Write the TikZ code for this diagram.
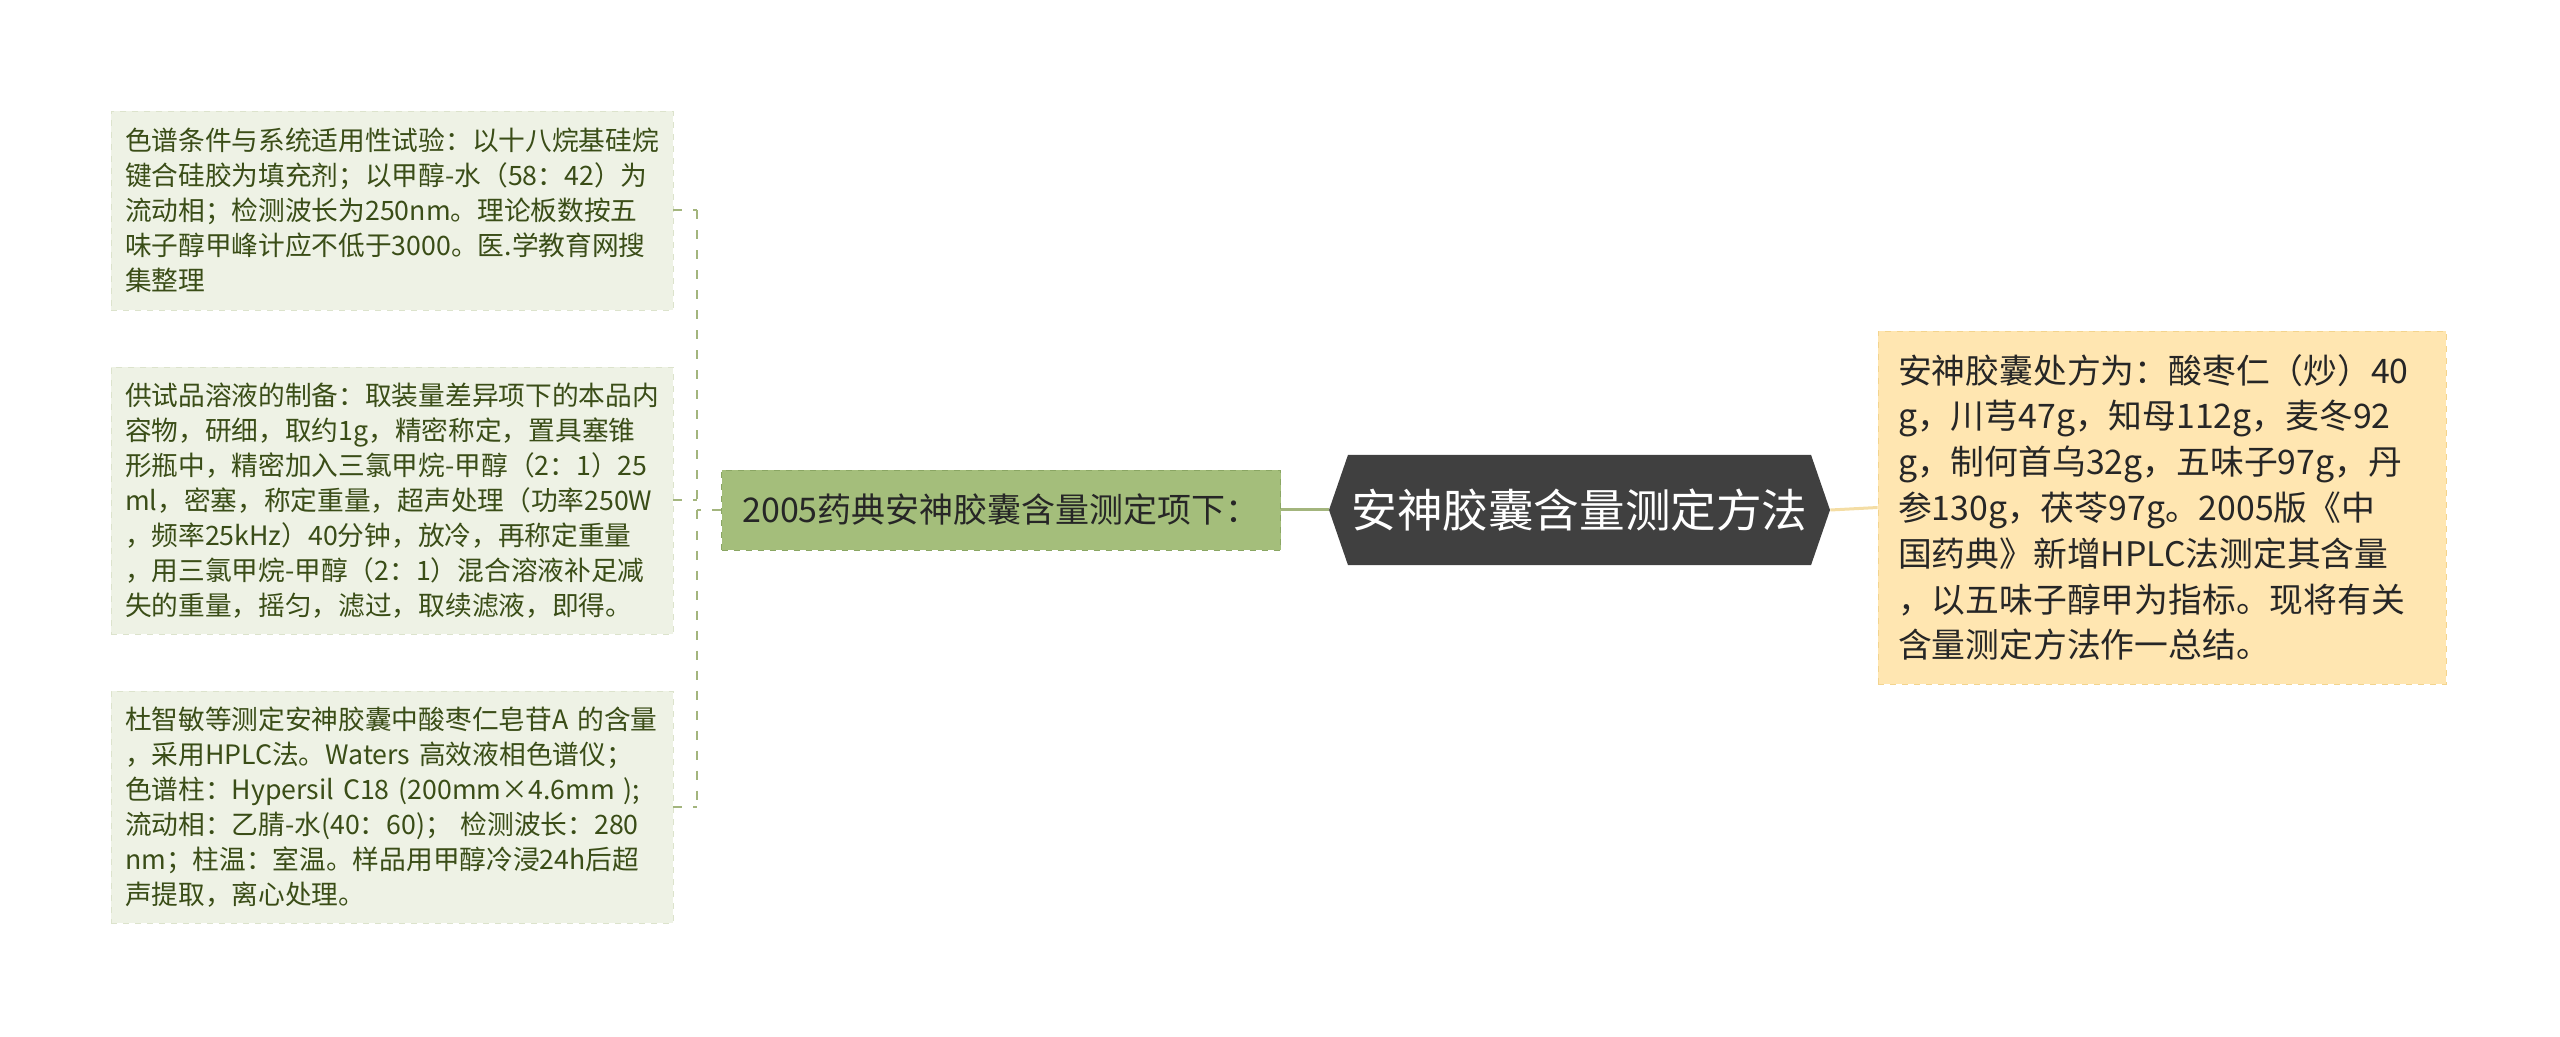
\documentclass[tikz,border=0pt]{standalone}
\usepackage{fontspec}
\setmainfont{Noto Sans CJK SC}
\usetikzlibrary{shapes.symbols}
\definecolor{leaffill}{HTML}{EEF2E5}
\definecolor{leafline}{HTML}{DCE3CC}
\definecolor{leaftext}{HTML}{3A4D17}
\definecolor{branchfill}{HTML}{A4BE7B}
\definecolor{branchline}{HTML}{8AA663}
\definecolor{rootfill}{HTML}{404040}
\definecolor{notefill}{HTML}{FFE6B1}
\definecolor{noteline}{HTML}{F3D48E}
\definecolor{linkgreen}{HTML}{A3B57D}
\definecolor{linkyellow}{HTML}{F4DDA4}
\tikzset{
  leaf/.style={rectangle,fill=leaffill,draw=leafline,dashed,text=leaftext,align=left,
    text width=267pt,inner xsep=7pt,inner ysep=0pt,
    font=\fontsize{13.35pt}{17.5pt}\selectfont},
  branch/.style={rectangle,fill=branchfill,draw=branchline,dashed,text=black!85,
    minimum width=279.5pt,minimum height=40pt,inner sep=0pt,
    font=\fontsize{17pt}{20pt}\selectfont},
  root/.style={signal,signal to=west and east,signal pointer angle=142,fill=rootfill,
    text=white,minimum width=250.5pt,minimum height=55pt,inner sep=0pt,
    font=\fontsize{22.8pt}{26pt}\selectfont},
  note/.style={rectangle,fill=notefill,draw=noteline,dashed,text=black!85,align=left,
    text width=264pt,inner xsep=10pt,inner ysep=0pt,minimum height=176.5pt,
    font=\fontsize{16.9pt}{22.9pt}\selectfont},
  twig/.style={draw=linkgreen,line width=1pt,dash pattern=on 4.5pt off 5.5pt},
  stem/.style={draw=linkgreen,line width=1.5pt},
  stemy/.style={draw=linkyellow,line width=1.5pt}
}
\begin{document}
\begin{tikzpicture}[x=0.5pt,y=-0.5pt]
    \useasboundingbox (0,0) rectangle (2560,1037);
    \node[root] (root) at (1579.5,510) {安神胶囊含量测定方法};
    \node[branch] (branch) at (1001,510) {2005药典安神胶囊含量测定项下：};
    \node[note] (note) at (2162,507.5) {安神胶囊处方为：酸枣仁（炒）40\\
      g，川芎47g，知母112g，麦冬92\\
      g，制何首乌32g，五味子97g，丹\\
      参130g，茯苓97g。2005版《中\\
      国药典》新增HPLC法测定其含量\\
      ，以五味子醇甲为指标。现将有关\\
      含量测定方法作一总结。};
    \node[leaf,minimum height=99.5pt] (b1) at (392,210.5) {色谱条件与系统适用性试验：以十八烷基硅烷\\
      键合硅胶为填充剂；以甲醇-水（58：42）为\\
      流动相；检测波长为250nm。理论板数按五\\
      味子醇甲峰计应不低于3000。医.学教育网搜\\
      集整理};
    \node[leaf,minimum height=133.5pt] (b2) at (392,500.5) {供试品溶液的制备：取装量差异项下的本品内\\
      容物，研细，取约1g，精密称定，置具塞锥\\
      形瓶中，精密加入三氯甲烷-甲醇（2：1）25\\
      ml，密塞，称定重量，超声处理（功率250W\\
      ，频率25kHz）40分钟，放冷，再称定重量\\
      ，用三氯甲烷-甲醇（2：1）混合溶液补足减\\
      失的重量，摇匀，滤过，取续滤液，即得。};
    \node[leaf,minimum height=116pt] (b3) at (392,807) {\mbox{杜智敏等测定安神胶囊中酸枣仁皂苷A 的含量}\\
      ，采用HPLC法。Waters 高效液相色谱仪；\\
      色谱柱：Hypersil C18 (200mm×4.6mm );\\
      流动相：乙腈-水(40：60)； 检测波长：280\\
      nm；柱温：室温。样品用甲醇冷浸24h后超\\
      声提取，离心处理。};
    \coordinate (fork) at (697,510);
    \draw[stem] (branch.east) -- (root.west);
    \draw[stemy] (root.east) -- (note.west);
    \draw[twig] (branch.west) -- (fork);
    \draw[twig] (fork |- b1.east) -- (fork |- b3.east);
    \foreach \b in {b1,b2,b3}
      \draw[twig] (\b.east) -- (fork |- \b.east);
\end{tikzpicture}
\end{document}
